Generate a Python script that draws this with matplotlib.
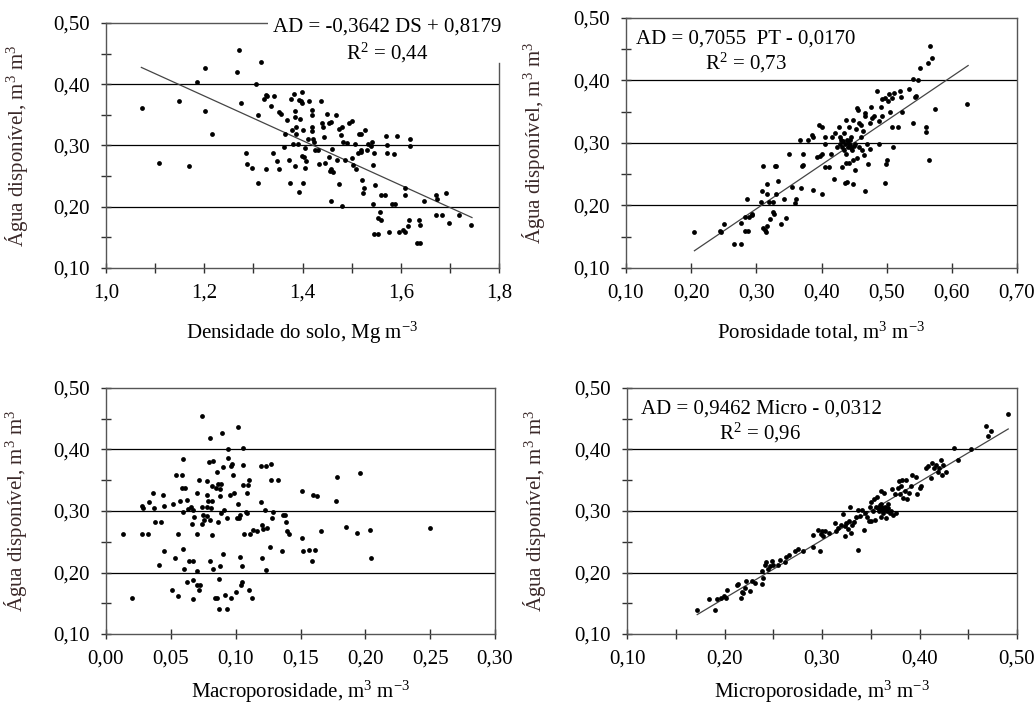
import matplotlib
matplotlib.use("Agg")
import matplotlib.pyplot as plt
import numpy as np

# ---------------- data ----------------
ds_x = [1.073,1.107,1.149,1.169,1.185,1.202,1.201,1.216,1.270,1.266,1.274,1.284,1.288,1.298,1.305,1.315,
        1.310,1.310,1.326,1.322,1.325,1.328,1.335,1.342,1.340,1.349,1.353,1.357,1.353,1.362,1.365,1.369,
        1.372,1.375,1.376,1.382,1.378,1.380,1.385,1.385,1.387,1.387,1.385,1.390,1.392,1.393,1.396,1.398,
        1.395,1.398,1.400,1.402,1.403,1.405,1.405,1.407,1.414,1.419,1.420,1.420,1.420,1.422,1.423,1.425,
        1.432,1.434,1.437,1.439,1.441,1.443,1.446,1.449,1.453,1.454,1.456,1.459,1.458,1.461,1.463,1.468,
        1.471,1.475,1.475,1.478,1.480,1.481,1.483,1.487,1.490,1.495,1.500,1.500,1.503,1.507,1.509,1.512,
        1.516,1.519,1.519,1.522,1.525,1.524,1.527,1.531,1.534,1.539,1.541,1.544,1.544,1.546,1.546,1.548,
        1.554,1.554,1.558,1.560,1.560,1.568,1.570,1.571,1.571,1.577,1.582,1.588,1.587,1.593,1.597,1.605,
        1.609,1.609,1.609,1.614,1.616,1.618,1.619,1.633,1.638,1.639,1.640,1.647,1.672,1.673,1.672,1.683,
        1.692,1.699,1.719,1.743,1.458,1.412,1.398,1.520]
ds_y = [0.362,0.271,0.373,0.266,0.403,0.427,0.356,0.318,0.456,0.420,0.369,0.288,0.270,0.264,0.401,0.436,
        0.349,0.239,0.261,0.376,0.383,0.380,0.365,0.380,0.288,0.275,0.355,0.352,0.261,0.298,0.319,0.342,
        0.276,0.239,0.376,0.384,0.325,0.302,0.357,0.347,0.331,0.319,0.267,0.302,0.224,0.375,0.373,0.387,
        0.343,0.283,0.239,0.326,0.281,0.296,0.263,0.274,0.373,0.349,0.358,0.330,0.324,0.311,0.306,0.292,
        0.292,0.270,0.373,0.337,0.330,0.314,0.271,0.352,0.336,0.282,0.259,0.339,0.210,0.295,0.257,0.349,
        0.276,0.237,0.327,0.317,0.330,0.202,0.306,0.277,0.304,0.337,0.340,0.279,0.268,0.303,0.262,0.288,
        0.319,0.319,0.292,0.243,0.231,0.222,0.325,0.293,0.303,0.299,0.306,0.268,0.204,0.287,0.156,0.235,
        0.156,0.181,0.191,0.178,0.219,0.219,0.316,0.301,0.288,0.158,0.204,0.204,0.286,0.315,0.158,0.162,
        0.231,0.219,0.159,0.168,0.179,0.310,0.299,0.141,0.179,0.141,0.171,0.210,0.219,0.213,0.186,0.186,
        0.223,0.173,0.187,0.171,0.262,0.310,0.370,0.290]

pt_x = [0.205,0.245,0.246,0.251,0.266,0.276,0.276,0.282,0.286,0.283,0.287,0.288,0.293,0.294,0.307,0.309,
        0.310,0.310,0.313,0.315,0.316,0.316,0.317,0.320,0.321,0.325,0.327,0.326,0.328,0.330,0.330,0.334,
        0.338,0.342,0.345,0.350,0.354,0.360,0.361,0.367,0.369,0.370,0.371,0.372,0.380,0.385,0.387,0.387,
        0.393,0.396,0.397,0.400,0.401,0.400,0.405,0.406,0.406,0.412,0.415,0.416,0.419,0.420,0.424,0.427,
        0.429,0.429,0.430,0.431,0.432,0.434,0.435,0.436,0.436,0.437,0.438,0.438,0.439,0.439,0.441,0.442,
        0.442,0.444,0.444,0.446,0.447,0.448,0.448,0.449,0.451,0.452,0.453,0.454,0.455,0.456,0.457,0.458,
        0.460,0.461,0.462,0.463,0.465,0.466,0.467,0.467,0.470,0.471,0.474,0.475,0.476,0.478,0.481,0.485,
        0.488,0.489,0.492,0.493,0.493,0.498,0.498,0.499,0.501,0.502,0.503,0.505,0.508,0.508,0.510,0.511,
        0.518,0.520,0.522,0.523,0.535,0.540,0.540,0.544,0.545,0.548,0.551,0.561,0.561,0.563,0.565,0.566,
        0.570,0.574,0.623,0.440,0.445,0.433,0.450]
pt_y = [0.157,0.159,0.157,0.170,0.139,0.139,0.172,0.181,0.210,0.159,0.159,0.181,0.184,0.187,0.206,0.223,
        0.263,0.164,0.160,0.158,0.235,0.218,0.167,0.205,0.178,0.190,0.187,0.205,0.263,0.218,0.263,0.239,
        0.171,0.210,0.180,0.282,0.230,0.204,0.210,0.305,0.228,0.263,0.282,0.265,0.305,0.313,0.310,0.225,
        0.278,0.329,0.279,0.325,0.218,0.282,0.262,0.310,0.299,0.262,0.283,0.310,0.242,0.316,0.294,0.326,
        0.310,0.299,0.305,0.294,0.262,0.289,0.316,0.299,0.236,0.268,0.337,0.283,0.305,0.238,0.294,0.326,
        0.268,0.305,0.297,0.310,0.289,0.273,0.337,0.235,0.299,0.257,0.322,0.356,0.276,0.353,0.294,0.332,
        0.329,0.310,0.289,0.319,0.281,0.343,0.348,0.223,0.299,0.266,0.291,0.332,0.358,0.340,0.343,0.383,
        0.335,0.298,0.358,0.343,0.371,0.372,0.236,0.267,0.273,0.367,0.379,0.349,0.372,0.325,0.294,0.380,
        0.326,0.383,0.374,0.350,0.386,0.402,0.332,0.374,0.375,0.400,0.420,0.325,0.317,0.428,0.273,0.456,
        0.436,0.355,0.362,0.300,0.292,0.303,0.296]

macro_x = [0.0134,0.0203,0.0275,0.0288,0.0275,0.0321,0.0329,0.0365,0.0370,0.0378,0.0424,0.0411,0.0442,
           0.0445,0.0450,0.0506,0.0514,0.0532,0.0540,0.0558,0.0558,0.0571,0.0583,0.0583,0.0591,0.0596,
           0.0596,0.0609,0.0601,0.0622,0.0627,0.0635,0.0643,0.0653,0.0661,0.0668,0.0673,0.0673,0.0673,
           0.0679,0.0699,0.0699,0.0699,0.0699,0.0720,0.0720,0.0725,0.0738,0.0743,0.0743,0.0751,0.0756,
           0.0776,0.0776,0.0776,0.0781,0.0789,0.0797,0.0802,0.0802,0.0802,0.0807,0.0815,0.0815,0.0820,
           0.0823,0.0828,0.0840,0.0848,0.0853,0.0859,0.0861,0.0866,0.0869,0.0871,0.0879,0.0879,0.0879,
           0.0887,0.0887,0.0897,0.0905,0.0905,0.0913,0.0918,0.0930,0.0930,0.0938,0.0938,0.0956,0.0961,
           0.0964,0.0974,0.0982,0.0990,0.1003,0.1008,0.1015,0.1021,0.1026,0.1033,0.1033,0.1039,0.1046,
           0.1046,0.1054,0.1059,0.1059,0.1067,0.1077,0.1085,0.1090,0.1098,0.1105,0.1105,0.1110,0.1123,
           0.1136,0.1162,0.1193,0.1193,0.1200,0.1205,0.1208,0.1226,0.1231,0.1231,0.1239,0.1265,0.1270,
           0.1270,0.1278,0.1290,0.1329,0.1355,0.1362,0.1380,0.1388,0.1398,0.1414,0.1514,0.1514,0.1517,
           0.1568,0.1586,0.1594,0.1612,0.1625,0.1658,0.1774,0.1779,0.1848,0.1933,0.1959,0.2036,0.2044,
           0.2499]
macro_y = [0.262,0.158,0.308,0.305,0.262,0.262,0.315,0.330,0.305,0.282,0.282,0.212,0.326,0.235,0.308,
           0.171,0.311,0.223,0.359,0.263,0.162,0.316,0.358,0.338,0.298,0.239,0.384,0.338,0.205,0.318,
           0.185,0.303,0.218,0.306,0.279,0.157,0.301,0.218,0.188,0.290,0.329,0.263,0.203,0.180,0.351,
           0.172,0.180,0.306,0.455,0.279,0.294,0.285,0.348,0.326,0.292,0.306,0.316,0.380,0.419,0.218,
           0.285,0.305,0.340,0.261,0.317,0.205,0.382,0.158,0.338,0.364,0.158,0.282,0.344,0.190,0.140,
           0.324,0.335,0.211,0.344,0.296,0.427,0.230,0.371,0.302,0.164,0.288,0.140,0.400,0.386,0.326,
           0.373,0.159,0.377,0.359,0.330,0.169,0.289,0.436,0.311,0.289,0.293,0.226,0.180,0.210,0.185,
           0.342,0.403,0.375,0.263,0.298,0.330,0.296,0.342,0.351,0.172,0.262,0.158,0.269,0.268,0.373,
           0.314,0.277,0.224,0.271,0.301,0.373,0.204,0.273,0.242,0.377,0.351,0.289,0.298,0.351,0.235,
           0.293,0.293,0.282,0.268,0.262,0.332,0.256,0.235,0.236,0.218,0.326,0.236,0.325,0.268,0.317,
           0.356,0.274,0.265,0.362,0.269,0.224,0.273]

micro_x = [0.1715,0.184,0.190,0.192,0.196,0.199,0.202,0.203,0.213,0.214,0.217,0.218,0.219,0.221,0.222,
           0.226,0.228,0.231,0.238,0.238,0.239,0.242,0.243,0.245,0.247,0.249,0.250,0.255,0.257,0.262,
           0.263,0.266,0.272,0.275,0.281,0.291,0.291,0.296,0.298,0.299,0.300,0.301,0.303,0.307,0.313,
           0.314,0.316,0.319,0.322,0.324,0.324,0.325,0.327,0.328,0.329,0.330,0.331,0.333,0.335,0.337,
           0.337,0.339,0.341,0.343,0.344,0.346,0.348,0.349,0.350,0.350,0.352,0.353,0.354,0.355,0.356,
           0.357,0.358,0.360,0.360,0.361,0.361,0.362,0.363,0.364,0.365,0.366,0.367,0.368,0.368,0.370,
           0.372,0.373,0.375,0.376,0.378,0.379,0.380,0.381,0.382,0.383,0.385,0.386,0.387,0.389,0.391,
           0.392,0.396,0.397,0.401,0.402,0.407,0.409,0.412,0.413,0.415,0.417,0.419,0.420,0.422,0.423,
           0.424,0.427,0.435,0.439,0.453,0.468,0.470,0.473,0.491,0.363,0.366,0.359,0.371]
micro_y = [0.139,0.157,0.139,0.157,0.159,0.161,0.159,0.172,0.179,0.181,0.159,0.169,0.167,0.175,0.186,
           0.170,0.186,0.183,0.203,0.181,0.191,0.213,0.217,0.205,0.210,0.218,0.213,0.212,0.220,0.217,
           0.226,0.229,0.235,0.239,0.235,0.241,0.261,0.269,0.235,0.262,0.267,0.259,0.267,0.265,0.280,
           0.267,0.273,0.278,0.295,0.275,0.259,0.280,0.270,0.284,0.306,0.264,0.278,0.282,0.291,0.236,
           0.301,0.292,0.302,0.269,0.297,0.291,0.283,0.307,0.315,0.283,0.300,0.319,0.286,0.307,0.322,
           0.305,0.300,0.332,0.291,0.312,0.307,0.301,0.297,0.330,0.307,0.288,0.300,0.305,0.312,0.297,
           0.335,0.294,0.327,0.297,0.337,0.348,0.327,0.341,0.351,0.321,0.332,0.351,0.319,0.329,0.340,
           0.358,0.356,0.327,0.337,0.340,0.370,0.373,0.354,0.378,0.370,0.374,0.364,0.370,0.383,0.358,
           0.375,0.363,0.403,0.383,0.401,0.438,0.422,0.430,0.457,0.305,0.302,0.310,0.300]

# regression: slope, intercept, x start, x end
fit_ds = (-0.3642, 0.8179, 1.072, 1.745)
fit_pt = (0.7055, -0.0170, 0.205, 0.625)
fit_micro = (0.9462, -0.0312, 0.172, 0.491)

eq_ds = ["AD = -0,3642 DS + 0,8179", "R$^2$ = 0,44"]
eq_pt = ["AD = 0,7055  PT - 0,0170", "R$^2$ = 0,73"]
eq_micro = ["AD = 0,9462 Micro - 0,0312", "R$^2$ = 0,96"]

xlab_ds = "Densidade do solo, Mg m$^{-3}$"
xlab_pt = "Porosidade total, m$^3$ m$^{-3}$"
xlab_macro = "Macroporosidade, m$^3$ m$^{-3}$"
xlab_micro = "Microporosidade, m$^3$ m$^{-3}$"
ylab = "Água disponível, m$^3$ m$^3$"

# ---------------- style ----------------
plt.rcParams['font.family'] = ['Liberation Serif', 'DejaVu Serif']
plt.rcParams['mathtext.fontset'] = 'custom'
plt.rcParams['mathtext.rm'] = 'Liberation Serif'
plt.rcParams['mathtext.it'] = 'Liberation Serif:italic'
plt.rcParams['mathtext.bf'] = 'Liberation Serif:bold'
plt.rcParams['mathtext.default'] = 'regular'

FS = 15
W, H = 1035, 704
fig = plt.figure(figsize=(W/100, H/100), dpi=100)

def frac(l, r, t, b):
    return [l/W, 1-b/H, (r-l)/W, (b-t)/H]

def fmt(v, nd):
    return (f"{v:.{nd}f}").replace('.', ',')

def setup(ax, xlim, xmaj, xnd, xtickpos, ylab_x):
    ax.set_xlim(*xlim)
    ax.set_ylim(0.10, 0.50)
    ax.set_xticks(xtickpos)
    ax.set_xticklabels([fmt(v, xnd) if any(abs(v-m) < 1e-9 for m in xmaj) else "" for v in xtickpos])
    yt = np.round(np.arange(0.10, 0.501, 0.05), 2)
    ax.set_yticks(yt)
    ax.set_yticklabels([fmt(v, 2) if abs(round(v*10) - v*10) < 1e-6 else "" for v in yt])
    ax.tick_params(direction='inout', length=7, width=1, colors='#303030',
                   labelcolor='black', labelsize=FS, pad=8)
    ax.tick_params(axis='x', pad=8)
    for s in ax.spines.values():
        s.set_color('#555555')
        s.set_linewidth(1)
    for g in (0.2, 0.3, 0.4):
        ax.axhline(g, color='black', lw=0.9, zorder=1)
    ax.set_ylabel(ylab, fontsize=FS, color='#3a2828')
    ax.yaxis.set_label_coords(ylab_x, 0.5)

def scatter(ax, x, y):
    ax.scatter(x, y, s=12, color='black', zorder=3, linewidths=0)

def fitline(ax, fit):
    a, b, x0, x1 = fit
    xs = np.array([x0, x1])
    ax.plot(xs, a*xs + b, color='#444444', lw=0.9, zorder=2)

# Panel 1
ax1 = fig.add_axes(frac(106, 499, 23, 268))
setup(ax1, (1.0, 1.8), [1.0, 1.2, 1.4, 1.6, 1.8], 1, np.round(np.arange(1.0, 1.801, 0.1), 2), -0.193)
scatter(ax1, ds_x, ds_y)
fitline(ax1, fit_ds)
ax1.set_xlabel(xlab_ds, fontsize=FS, labelpad=12)
ax1.text(387, 704-27, eq_ds[0], transform=None, fontsize=FS, ha='center', va='center', zorder=5,
         bbox=dict(boxstyle='square,pad=0.25', fc='white', ec='none'))
ax1.text(387, 704-53, eq_ds[1], transform=None, fontsize=FS, ha='center', va='center', zorder=5,
         bbox=dict(boxstyle='square,pad=0.25', fc='white', ec='none'))
ax1.spines['top'].set_bounds(1.0, 1.0 + 0.8*(268-106)/(499-106))
ax1.spines['right'].set_bounds(0.10, 0.10 + 0.4*(268-63)/(268-23))

# Panel 2
ax2 = fig.add_axes(frac(626, 1017, 18, 268))
setup(ax2, (0.10, 0.70), list(np.round(np.arange(0.1, 0.701, 0.1), 2)), 2,
      np.round(np.arange(0.10, 0.701, 0.1), 2), -0.202)
scatter(ax2, pt_x, pt_y)
fitline(ax2, fit_pt)
ax2.set_xlabel(xlab_pt, fontsize=FS, labelpad=12)
ax2.text(746, 704-39, eq_pt[0], transform=None, fontsize=FS, ha='center', va='center', zorder=5)
ax2.text(746, 704-63, eq_pt[1], transform=None, fontsize=FS, ha='center', va='center', zorder=5)

# Panel 3
ax3 = fig.add_axes(frac(106, 495, 388, 634))
setup(ax3, (0.0, 0.30), list(np.round(np.arange(0.0, 0.301, 0.05), 2)), 2,
      np.round(np.arange(0.0, 0.301, 0.05), 2), -0.198)
scatter(ax3, macro_x, macro_y)
ax3.set_xlabel(xlab_macro, fontsize=FS, labelpad=7)

# Panel 4
ax4 = fig.add_axes(frac(627, 1017, 388, 634))
setup(ax4, (0.10, 0.50), list(np.round(np.arange(0.1, 0.501, 0.1), 2)), 2,
      np.round(np.arange(0.10, 0.501, 0.05), 2), -0.203)
scatter(ax4, micro_x, micro_y)
fitline(ax4, fit_micro)
ax4.set_xlabel(xlab_micro, fontsize=FS, labelpad=7)
ax4.text(761, 704-409, eq_micro[0], transform=None, fontsize=FS, ha='center', va='center', zorder=5)
ax4.text(760, 704-433, eq_micro[1], transform=None, fontsize=FS, ha='center', va='center', zorder=5)

fig.savefig("out.png", dpi=100)
